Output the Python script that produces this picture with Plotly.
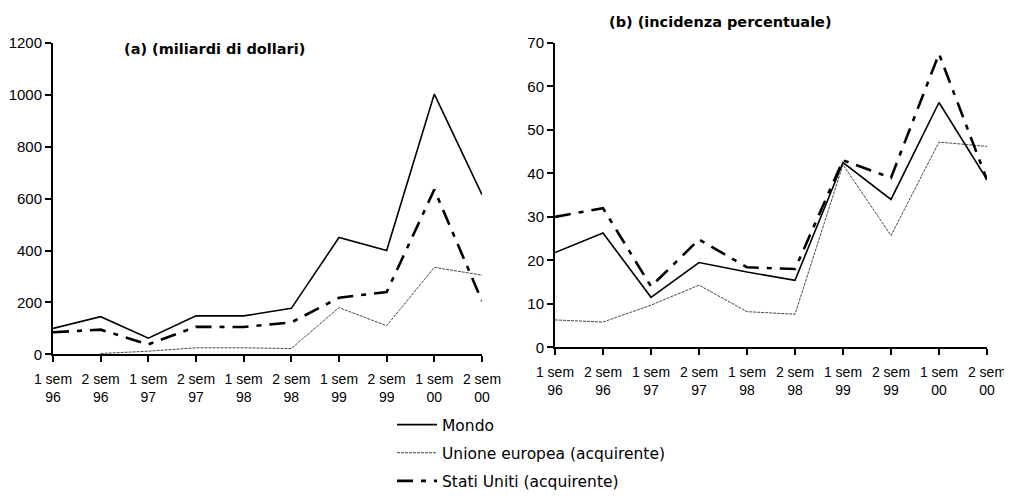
import plotly.graph_objects as go

periods = ["1 sem<br>96", "2 sem<br>96", "1 sem<br>97", "2 sem<br>97", "1 sem<br>98",
           "2 sem<br>98", "1 sem<br>99", "2 sem<br>99", "1 sem<br>00", "2 sem<br>00"]

# (a) miliardi di dollari
mondo_a = [100, 145, 62, 148, 148, 177, 450, 400, 1003, 615]
ue_a = [None, 3, 12, 25, 25, 22, 180, 110, 335, 305]
usa_a = [85, 95, 38, 106, 105, 123, 218, 240, 635, 205]

# (b) incidenza percentuale
mondo_b = [21.8, 26.3, 11.5, 19.5, 17.3, 15.4, 42.5, 34.0, 56.3, 38.6]
ue_b = [6.3, 5.8, 9.7, 14.3, 8.2, 7.6, 42.0, 25.7, 47.2, 46.2]
usa_b = [30.0, 32.0, 14.0, 24.8, 18.4, 18.0, 43.0, 39.0, 67.5, 38.5]

names = ["Mondo", "Unione europea (acquirente)", "Stati Uniti (acquirente)"]
styles = [dict(color="black", width=1.6, dash="solid"),
          dict(color="#333333", width=0.9, dash="3px,1px"),
          dict(color="black", width=2.6, dash="16px,8px,5px,8px")]

xs = list(range(len(periods)))
fig = go.Figure()
for i, (sa, sb) in enumerate([(mondo_a, mondo_b), (ue_a, ue_b), (usa_a, usa_b)]):
    fig.add_trace(go.Scatter(x=xs, y=sa, mode="lines", line=styles[i], name=names[i],
                             legendgroup=names[i], xaxis="x", yaxis="y"))
    fig.add_trace(go.Scatter(x=xs, y=sb, mode="lines", line=styles[i], name=names[i],
                             legendgroup=names[i], showlegend=False, xaxis="x2", yaxis="y2"))

tickfam = "Liberation Sans"
font = "DejaVu Sans"
W, H = 1004, 490
xa = dict(range=[0, 9], tickvals=xs, ticktext=periods, showgrid=False, zeroline=False,
          showline=True, linecolor="black", linewidth=2, ticks="outside", ticklen=6,
          tickwidth=2, tickcolor="black", tickfont=dict(family=tickfam, size=14, color="black"),
          ticklabelstandoff=5, automargin=False, fixedrange=True)
ya = dict(showgrid=False, zeroline=False, showline=True, linecolor="black", linewidth=2,
          ticks="outside", ticklen=6, tickwidth=2, tickcolor="black",
          tickfont=dict(family=tickfam, size=15, color="black"), automargin=False)

fig.update_layout(
    width=W, height=H, paper_bgcolor="white", plot_bgcolor="white",
    margin=dict(l=0, r=0, t=0, b=0),
    xaxis=dict(xa, domain=[45 / W, 474 / W], anchor="y"),
    yaxis=dict(ya, domain=[1 - 347 / H, 1 - 35 / H], range=[0, 1200],
               tickvals=[0, 200, 400, 600, 800, 1000, 1200], anchor="x"),
    xaxis2=dict(xa, domain=[547 / W, 979 / W], anchor="y2"),
    yaxis2=dict(ya, domain=[1 - 340 / H, 1 - 35 / H], range=[0, 70],
                tickvals=[0, 10, 20, 30, 40, 50, 60, 70], anchor="x2"),
    showlegend=True,
    legend=dict(x=384 / W, y=1 - 401 / H, xanchor="left", yanchor="top",
                font=dict(family=font, size=15.5, color="black"), tracegroupgap=5,
                bgcolor="rgba(0,0,0,0)", itemwidth=40),
    annotations=[
        dict(text="<b>(a) (miliardi di dollari)</b>", x=206 / W, y=1 - 41 / H, xref="paper",
             yref="paper", showarrow=False, font=dict(family=font, size=14.5, color="black"),
             xanchor="center", yanchor="middle"),
        dict(text="<b>(b) (incidenza percentuale)</b>", x=712 / W, y=1 - 14 / H, xref="paper",
             yref="paper", showarrow=False, font=dict(family=font, size=14.5, color="black"),
             xanchor="center", yanchor="middle"),
    ],
)

fig.write_html("out.html")
